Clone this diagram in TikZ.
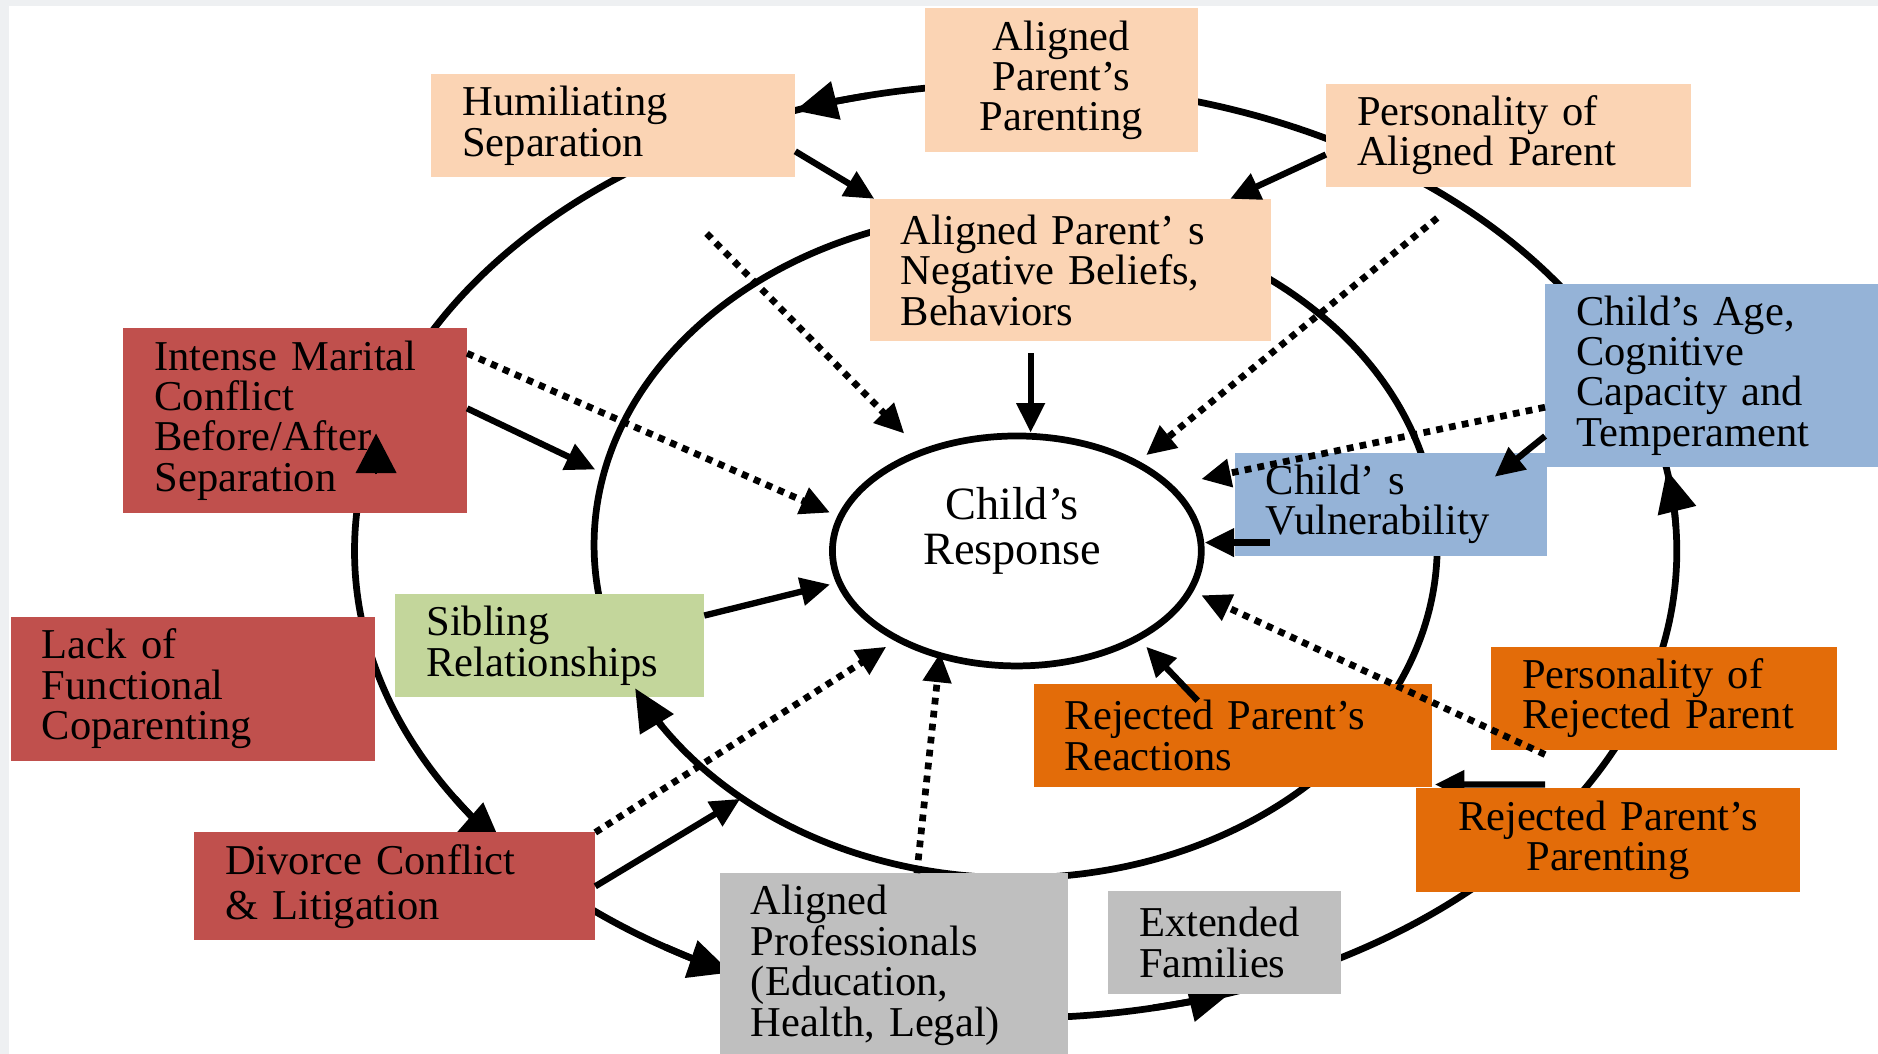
\documentclass[tikz,border=0pt]{standalone}
\usepackage{fontspec}
\setmainfont{Liberation Serif}
\usetikzlibrary{shapes.geometric, arrows.meta, calc, backgrounds}

\definecolor{peach}{HTML}{FBD4B4}
\definecolor{brick}{HTML}{C0504D}
\definecolor{sky}{HTML}{95B3D7}
\definecolor{sage}{HTML}{C3D69B}
\definecolor{rust}{HTML}{E36C09}
\definecolor{ash}{HTML}{BFBFBF}
\definecolor{frame}{HTML}{EEF0F2}

\begin{document}
\begin{tikzpicture}[box/.style={rectangle, inner xsep=0.26cm, inner ysep=0pt, outer sep=0pt, align=left, font=\fontsize{10.1}{9.6}\selectfont},
    ring/.style={line width=1.6pt},
    ringtip/.style={line width=1.6pt, -{Triangle[length=10pt, width=9pt]}},
    arr/.style={line width=1.5pt, -{Triangle[length=7pt, width=6.5pt]}},
    dot/.style={line width=1.6pt, dash pattern=on 1.6pt off 1.5pt, -{Triangle[length=7pt, width=6.5pt]}}]
    
        \useasboundingbox (0,0) rectangle (15.68,-8.80);
        \begin{pgfonlayer}{background}
            \fill[frame] (0,0) rectangle (15.68,-8.80);
            \fill[white] (0.075,-0.05) rectangle (15.68,-8.80);
        \end{pgfonlayer}
        
        % Rings.
        \coordinate (OR) at (8.48,-4.60);
        \coordinate (IR) at (8.48,-4.55);
        \draw[ring] (OR) ellipse [x radius=5.52, y radius=3.90];
        \draw[ring] (IR) ellipse [x radius=3.52, y radius=2.78];
        % Ring arrows.
        \foreach \a/\b in {103/109.5, 212/219, 238/244.5, 282/289, 3/10}
            \draw[ringtip] ($(OR)+(\a:5.52 and 3.90)$) arc[start angle=\a, end angle=\b, x radius=5.52, y radius=3.90];
        
        % Child's response.
        \node[draw, ellipse, line width=1.6pt, minimum width=3.08cm, minimum height=1.92cm, inner sep=0pt] (CR) at (8.49,-4.60) {};
        \node[align=center, font=\fontsize{11}{10.8}\selectfont] (CR-text) at ($(CR)+(-0.04,0.17)$) {Child’s\\Response};
        
        % Aligned parent.
        \node[box, fill=peach, text width=1.76cm, minimum height=1.20cm, align=center] (APP) at (8.86,-0.67) {Aligned\\Parent’s\\Parenting};
        \node[box, fill=peach, text width=2.52cm, minimum height=0.86cm] (HS) at (5.12,-1.05) {Humiliating\\Separation};
        \node[box, fill=peach, text width=2.53cm, minimum height=0.86cm] (PAP) at (12.595,-1.13) {Personality of\\Aligned Parent};
        \node[box, fill=peach, text width=2.83cm, minimum height=1.19cm] (NB) at (8.935,-2.255) {Aligned Parent’ s\\Negative Beliefs,\\Behaviors};
        
        % Conflict.
        \node[box, fill=brick, text width=2.35cm, minimum height=1.54cm] (IMC) at (2.465,-3.51) {Intense Marital\\Conflict\\Before/After\\Separation};
        \node[box, fill=brick, text width=2.52cm, minimum height=1.20cm] (LFC) at (1.61,-5.75) {Lack of\\Functional\\Coparenting};
        \node[box, fill=brick, text width=2.83cm, minimum height=0.90cm] (DCL) at (3.295,-7.40) {Divorce Conflict\\[0.04cm]\& Litigation};
        
        % Child.
        \node[box, fill=sky, text width=2.26cm, minimum height=1.53cm] (CAT) at (14.29,-3.135) {Child’s Age,\\Cognitive\\Capacity and\\Temperament};
        \node[box, fill=sky, text width=2.09cm, minimum height=0.86cm] (CV) at (11.615,-4.21) {Child’ s\\Vulnerability};
        \node[box, fill=sage, text width=2.06cm, minimum height=0.86cm] (SR) at (4.59,-5.39) {Sibling\\Relationships};
        
        % Others.
        \node[box, fill=ash, text width=2.39cm, minimum height=1.54cm] (ALP) at (7.465,-8.06) {Aligned\\Professionals\\(Education,\\Health, Legal)};
        \node[box, fill=ash, text width=1.43cm, minimum height=0.86cm] (EF) at (10.225,-7.87) {Extended\\Families};
        
        % Rejected parent.
        \node[box, fill=rust, text width=2.81cm, minimum height=0.86cm] (RPR) at (10.295,-6.14) {Rejected Parent’s\\Reactions};
        \node[box, fill=rust, text width=2.37cm, minimum height=0.86cm] (PRP) at (13.895,-5.83) {Personality of\\Rejected Parent};
        \node[box, fill=rust, text width=2.69cm, minimum height=0.87cm, align=center] (RPP) at (13.425,-7.015) {Rejected Parent’s\\Parenting};
        \begin{pgfonlayer}{background}
            \draw[arr] ($(RPP.north west)+(1.08,0.03)$) -- ($(RPR.south east)+(0.02,0.02)$);
        \end{pgfonlayer}
        
        % Ring arrows over boxes.
        \draw[ringtip] ($(IR)+(213:3.52 and 2.78)$) arc[start angle=213, end angle=205.5, x radius=3.52, y radius=2.78];
        \draw[-{Triangle[length=0.33cm, width=0.34cm]}] ($(IMC.south east)+(-0.76,0.32)$) -- ($(IMC.south east)+(-0.76,0.66)$);
        
        % Solid connections.
        \coordinate (IRa) at (4.97,-3.92);
        \coordinate (IRb) at (6.18,-6.67);
        \coordinate (CVa) at ($(CV.north east)+(-0.44,-0.20)$);
        \coordinate (CVb) at ($(CV.south west)+(0.29,0.11)$);
        \coordinate (RPRa) at ($(RPR.north west)+(1.37,-0.14)$);
        \draw[arr] (HS.-8.6) -- (NB.160);
        \draw[arr] (PAP.186) -- (NB.24);
        \draw[arr, shorten <=0.1cm] (NB.-119) -- (NB.-119 |- CR.north);
        \draw[arr] (IMC.4) -- (IRa);
        \draw[arr] (CAT.200) -- (CVa);
        \draw[arr] (CVb) -- (CVb -| CR.east);
        \draw[arr] (SR.11) -- ($(CR)+(-1.56,-0.28)$);
        \draw[arr] (RPRa) -- ($(CR)+(1.08,-0.80)$);
        \draw[arr] (DCL.east) -- (IRb);
        
        % Dotted connections.
        \coordinate (dot-hs) at (5.90,-1.95);
        \coordinate (dot-pap) at (12.00,-1.82);
        \draw[dot] (dot-hs) -- ($(CR)+(-0.94,0.98)$);
        \draw[dot] ($(IMC.north east)+(0,-0.21)$) -- ($(CR)+(-1.56,0.32)$);
        \draw[dot] (dot-pap) -- ($(CR)+(1.08,0.80)$);
        \draw[dot] ($(CAT.north west)+(0,-1.03)$) -- ($(CR)+(1.54,0.60)$);
        \draw[dot] ($(PRP.south west)+(0.45,-0.04)$) -- ($(CR)+(1.54,-0.37)$);
        \draw[dot] (DCL.north east) -- ($(CR)+(-1.09,-0.80)$);
        \draw[dot] ($(ALP.north)+(0.19,0)$) -- ($(CR)+(-0.64,-0.85)$);
        
    \end{tikzpicture}
\end{document}
